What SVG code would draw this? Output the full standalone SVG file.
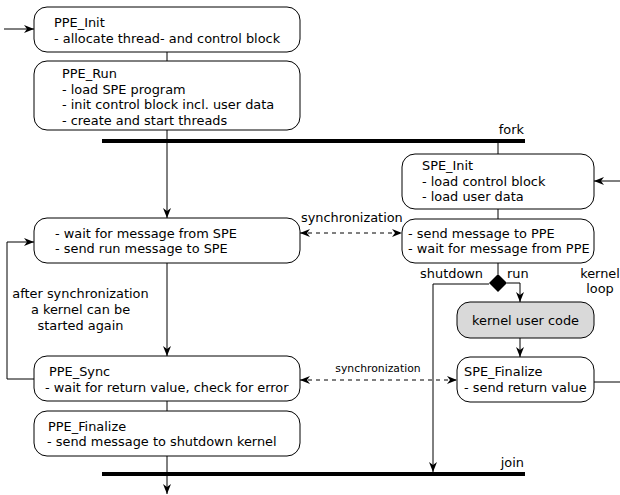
<svg xmlns="http://www.w3.org/2000/svg" width="620" height="495" viewBox="0 0 620 495">
  <style>
    .box { fill: #ffffff; stroke: #000000; stroke-width: 1; }
    .gray { fill: #d9d9d9; }
    .bar { fill: #000000; }
    .t { font-family: "DejaVu Sans", "Liberation Sans", sans-serif; font-size: 12.9px; fill: #000000; }
    .small { font-size: 10.8px; }
    .mid { text-anchor: middle; }
    .end { text-anchor: end; }
    .line { fill: none; stroke: #000000; stroke-width: 1; }
    .arrow { marker-end: url(#head); }
    .dash { stroke-dasharray: 4 4; marker-start: url(#head); marker-end: url(#head); }
  </style>
  <defs>
    <marker id="head" viewBox="0 0 10 8" refX="10" refY="4" markerWidth="10" markerHeight="8" markerUnits="userSpaceOnUse" orient="auto-start-reverse">
      <path d="M0,0 L10,4 L0,8 L3,4 Z" fill="#000000"/>
    </marker>
  </defs>

  <!-- connectors -->
  <g id="connectors">
    <path class="line arrow" d="M4,29 H34"/>
    <path class="line" d="M167,52 V61"/>
    <path class="line" d="M167,130 V140"/>
    <path class="line arrow" d="M167,143 V218"/>
    <path class="line arrow" d="M167,263 V356"/>
    <path class="line arrow" d="M34,379 H7 V242 H34"/>
    <path class="line" d="M167,401 V411"/>
    <path class="line" d="M167,456 V472"/>
    <path class="line arrow" d="M167,476 V494"/>
    <path class="line" d="M498,143 V154"/>
    <path class="line arrow" d="M620,181 H594"/>
    <path class="line" d="M498,209 V219"/>
    <path class="line" d="M498,263 V274"/>
    <path class="line arrow" d="M489,284 H433 V472"/>
    <path class="line arrow" d="M507,283 H520 V302"/>
    <path class="line arrow" d="M520,338 V357"/>
    <path class="line" d="M594,382 H620"/>
    <path class="line dash" d="M300,233 H402"/>
    <path class="line dash" d="M300,380 H457"/>
    <text class="t" x="301" y="222">synchronization</text>
    <text class="t small mid" x="378" y="372">synchronization</text>
    <text class="t mid" x="80.5" y="298">after synchronization</text>
    <text class="t mid" x="80.5" y="314">a kernel can be</text>
    <text class="t mid" x="80.5" y="330">started again</text>
    <text class="t end" x="483" y="278">shutdown</text>
    <text class="t" x="507" y="278">run</text>
    <text class="t mid" x="600" y="278">kernel</text>
    <text class="t mid" x="600" y="293">loop</text>
  </g>

  <g id="ppe-init">
    <rect class="box" x="34" y="7" width="266" height="45" rx="13"/>
    <text class="t" x="54" y="27">PPE_Init</text>
    <text class="t" x="54" y="42.5">- allocate thread- and control block</text>
  </g>

  <g id="ppe-run">
    <rect class="box" x="34" y="61" width="266" height="69" rx="13"/>
    <text class="t" x="62" y="78">PPE_Run</text>
    <text class="t" x="62" y="93.7">- load SPE program</text>
    <text class="t" x="62" y="109.3">- init control block incl. user data</text>
    <text class="t" x="62" y="125">- create and start threads</text>
  </g>

  <g id="fork">
    <rect class="bar" x="102" y="139" width="423" height="4"/>
    <text class="t end" x="524" y="134">fork</text>
  </g>

  <g id="ppe-wait">
    <rect class="box" x="34" y="218" width="266" height="45" rx="13"/>
    <text class="t" x="55" y="238">- wait for message from SPE</text>
    <text class="t" x="55" y="253">- send run message to SPE</text>
  </g>

  <g id="ppe-sync">
    <rect class="box" x="34" y="356" width="266" height="45" rx="13"/>
    <text class="t" x="49" y="376">PPE_Sync</text>
    <text class="t" x="45" y="391.5">- wait for return value, check for error</text>
  </g>

  <g id="ppe-finalize">
    <rect class="box" x="34" y="411" width="266" height="45" rx="13"/>
    <text class="t" x="48" y="431">PPE_Finalize</text>
    <text class="t" x="47" y="446">- send message to shutdown kernel</text>
  </g>

  <g id="join">
    <rect class="bar" x="102" y="472" width="423" height="4"/>
    <text class="t end" x="524" y="467">join</text>
  </g>

  <g id="spe-init">
    <rect class="box" x="402" y="154" width="192" height="55" rx="13"/>
    <text class="t" x="422" y="170">SPE_Init</text>
    <text class="t" x="422" y="186">- load control block</text>
    <text class="t" x="422" y="201">- load user data</text>
  </g>

  <g id="spe-wait">
    <rect class="box" x="402" y="219" width="192" height="44" rx="13"/>
    <text class="t" x="408" y="238">- send message to PPE</text>
    <text class="t" x="408" y="253">- wait for message from PPE</text>
  </g>

  <g id="decision">
    <path d="M498,274 L507,283 L498,292 L489,283 Z" fill="#000000"/>
  </g>

  <g id="kernel-user-code">
    <rect class="box gray" x="457" y="302" width="137" height="36" rx="13"/>
    <text class="t mid" x="525.5" y="325">kernel user code</text>
  </g>

  <g id="spe-finalize">
    <rect class="box" x="457" y="357" width="137" height="45" rx="13"/>
    <text class="t" x="464" y="376">SPE_Finalize</text>
    <text class="t" x="464" y="392">- send return value</text>
  </g>
</svg>
